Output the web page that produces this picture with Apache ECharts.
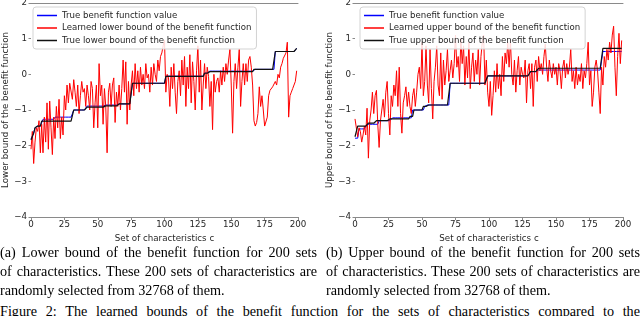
<!DOCTYPE html>
<html><head><meta charset="utf-8">
<script src="https://cdn.jsdelivr.net/npm/echarts@6/dist/echarts.min.js"></script>
<style>
html,body{margin:0;padding:0;background:#fff;}
#wrap{position:relative;width:640px;height:316px;overflow:hidden;background:#fff;}
#chart{position:absolute;left:0;top:0;width:640px;height:244px;}
.cap{position:absolute;font-family:"Liberation Serif","Times New Roman",serif;font-size:14.2px;color:#000;line-height:19px;height:19px;overflow:visible;}
.j{text-align:justify;text-align-last:justify;white-space:normal;word-spacing:-1px;}
.n{white-space:nowrap;}
</style></head>
<body><div id="wrap"><div id="chart"></div>
<div class="cap j" style="left:0;top:243px;width:317px">(a) Lower bound of the benefit function for 200 sets</div>
<div class="cap j" style="left:0;top:262px;width:317px">of characteristics. These 200 sets of characteristics are</div>
<div class="cap n" style="left:0;top:281px;">randomly selected from 32768 of them.</div>
<div class="cap j" style="left:326px;top:243px;width:314px">(b) Upper bound of the benefit function for 200 sets</div>
<div class="cap j" style="left:326px;top:262px;width:314px">of characteristics. These 200 sets of characteristics are</div>
<div class="cap n" style="left:326px;top:281px;">randomly selected from 32768 of them.</div>
<div class="cap j" style="left:0;top:302px;width:640px">Figure 2: The learned bounds of the benefit function for the sets of characteristics compared to the</div>
</div>
<script>
// x: set index 0..199
const xTicks = [0, 25, 50, 75, 100, 125, 150, 175, 200];
const yTicks = [-4, -3, -2, -1, 0, 1, 2];

// Left panel: true benefit value (blue)
const leftTrueValue = [
-1.8,-1.75,-1.65,-1.5,
-1.45,-1.45,-1.45,-1.45,-1.45,
-1.26,-1.26,-1.26,-1.26,-1.26,-1.26,-1.26,-1.26,-1.26,
-1.2,-1.2,-1.2,-1.2,-1.2,-1.2,-1.2,-1.2,-1.2,-1.2,-1.2,-1.2,-1.2,-1.2,
-1.0,-1.0,-1.0,-1.0,-1.0,-1.0,-1.0,-1.0,-1.0,-1.0,
-0.89,-0.89,-0.89,-0.89,-0.89,-0.89,-0.89,-0.89,-0.89,-0.89,-0.89,-0.89,-0.89,
-0.86,-0.86,-0.86,-0.86,-0.86,-0.86,-0.86,-0.86,-0.86,-0.86,-0.86,
-0.83,-0.83,-0.83,-0.83,-0.83,-0.83,-0.83,-0.83,-0.83,-0.83,
-0.25,-0.25,-0.25,-0.25,-0.25,-0.25,-0.25,-0.25,-0.25,-0.25,-0.25,-0.25,-0.25,-0.25,-0.25,-0.25,-0.25,-0.25,-0.25,-0.25,-0.25,-0.25,-0.25,-0.25,-0.25,
-0.05,-0.05,-0.05,-0.05,-0.05,-0.05,-0.05,-0.05,-0.05,-0.05,-0.05,-0.05,-0.05,-0.05,-0.05,-0.05,-0.05,-0.05,-0.05,-0.05,-0.05,-0.05,-0.05,-0.05,-0.05,-0.05,-0.05,-0.05,-0.05,
0.04,0.04,0.04,0.04,
0.09,0.09,0.09,0.09,0.09,0.09,0.09,0.09,0.09,0.09,0.09,0.09,0.09,0.09,0.09,0.09,0.09,0.09,0.09,0.09,0.09,0.09,0.09,0.09,0.09,0.09,0.09,0.09,0.09,0.09,0.09,0.09,0.09,
0.14,0.14,0.14,0.14,0.14,0.14,0.14,0.14,0.14,0.14,0.14,0.14,0.14,0.14,0.14,0.14,
0.64,0.64,0.64,0.64,0.64,0.64,0.64,0.64,0.64,0.64,0.64,0.64,0.64,0.64,0.64,0.64,
0.73];

// Left panel: learned lower bound (red)
const leftLearned = [
-2.1,-1.6,-2.5,-1.9,-1.5,-1.6,-1.3,-2.2,-1.4,-2.2,
-1.2,-1.9,-0.8,-2.1,-0.75,-1.5,-2.25,-1.2,-1.8,-0.9,
-1.5,-0.7,-1.8,-1.2,-1.7,-0.6,-1.0,-0.3,-0.8,-0.25,
-0.2,-0.7,-0.15,-0.5,-0.9,-0.3,-1.1,-0.6,-0.2,-0.5,
-0.4,-0.9,-0.3,-0.6,-1.0,-0.2,-0.4,-1.5,-0.8,-0.3,
-1.5,0.3,-0.6,-0.3,-1.4,-0.4,-0.9,-2.2,-0.5,-0.25,
-0.9,-0.3,-0.1,-1.35,-0.5,-0.9,-0.3,-1.0,-0.4,0.4,
-0.5,0.35,-1.4,-0.2,-1.0,-0.3,0.1,-0.6,0.3,-0.4,
0.1,-0.5,0.2,-0.3,0.0,-0.4,0.3,-0.1,0.0,-0.5,
0.2,-0.3,0.3,0.0,-0.2,0.4,0.1,0.5,0.6,0.8,
0.95,-0.5,0.0,-0.1,-0.9,0.2,-0.4,0.3,-0.5,-1.1,
-0.2,0.1,-0.6,0.4,-0.3,0.5,-0.9,0.2,-0.4,0.55,
-0.8,0.35,-0.2,-1.0,0.1,0.8,-0.5,0.4,-1.0,-0.3,
0.3,-0.4,0.2,-0.06,-0.9,-0.2,-1.55,0.0,-0.5,-0.2,
-0.1,-0.5,0.1,-0.3,0.2,-0.2,0.3,0.0,0.4,0.7,
-0.3,-1.65,-0.2,0.3,-0.4,0.2,0.7,-0.9,-0.2,0.3,
-0.3,0.3,-0.2,0.4,0.5,0.2,-0.3,-1.3,-1.45,-1.35,
-1.1,-0.35,-0.9,-0.6,-1.0,-1.45,-1.45,-1.2,-0.6,-0.45,
-0.5,-0.35,-0.4,-0.2,-0.3,0.0,-0.1,0.2,0.3,0.45,
0.5,0.6,0.9,-1.2,-0.6,-0.5,-0.4,-0.3,-0.2,0.1];

// Left panel: true lower bound (black)
const leftTrueBound = [
-1.84,-1.75,-1.65,-1.5,
-1.45,-1.45,-1.45,-1.45,
-1.31,-1.31,-1.31,-1.31,-1.31,-1.31,-1.31,-1.31,-1.31,-1.31,-1.31,-1.31,-1.31,-1.31,-1.31,-1.31,-1.31,-1.31,-1.31,-1.31,-1.31,-1.31,-1.31,-1.31,
-1.0,-1.0,-1.0,-1.0,-1.0,-1.0,-1.0,-1.0,-1.0,-1.0,
-0.92,-0.92,-0.92,-0.92,-0.92,-0.92,-0.92,-0.92,-0.92,-0.92,-0.92,-0.92,-0.92,
-0.885,-0.885,-0.885,-0.885,-0.885,-0.885,-0.885,-0.885,-0.885,-0.885,-0.885,
-0.83,-0.83,-0.83,-0.83,-0.83,-0.83,-0.83,-0.83,-0.83,-0.83,
-0.25,-0.25,-0.25,-0.25,-0.25,-0.25,-0.25,-0.25,-0.25,-0.25,-0.25,-0.25,-0.25,-0.25,-0.25,-0.25,-0.25,-0.25,-0.25,-0.25,-0.25,-0.25,-0.25,-0.25,-0.25,
-0.06,-0.06,-0.06,-0.06,-0.06,-0.06,-0.06,-0.06,-0.06,-0.06,-0.06,-0.06,-0.06,-0.06,-0.06,-0.06,-0.06,-0.06,-0.06,-0.06,-0.06,-0.06,-0.06,-0.06,-0.06,-0.06,-0.06,-0.06,-0.06,
0.03,0.03,0.03,0.03,
0.076,0.076,0.076,0.076,0.076,0.076,0.076,0.076,0.076,0.076,0.076,0.076,0.076,0.076,0.076,0.076,0.076,0.076,0.076,0.076,0.076,0.076,0.076,0.076,0.076,0.076,0.076,0.076,0.076,0.076,0.076,0.076,0.076,
0.14,0.14,0.14,0.14,0.14,0.14,0.14,0.14,0.14,0.14,0.14,0.14,0.14,0.14,0.14,0.14,
0.64,0.64,0.64,0.64,0.64,0.64,0.64,0.64,0.64,0.64,0.64,0.64,0.64,0.64,0.64,0.64,
0.73];

// Right panel: true benefit value (blue)
const rightTrueValue = [
-1.79,-1.79,-1.79,
-1.53,-1.53,-1.53,-1.53,-1.53,-1.53,
-1.4,-1.4,-1.4,-1.4,-1.4,-1.4,-1.4,-1.4,-1.4,
-1.3,-1.3,-1.3,-1.3,-1.3,-1.3,-1.3,-1.3,-1.3,-1.3,
-1.22,-1.22,-1.22,-1.22,-1.22,-1.22,-1.22,-1.22,-1.22,-1.22,-1.22,-1.22,-1.22,-1.22,-1.22,
-1.0,-1.0,-1.0,-1.0,-1.0,-1.0,-1.0,-1.0,-1.0,
-0.9,-0.9,
-0.86,-0.86,-0.86,-0.86,-0.86,-0.86,-0.86,-0.86,-0.86,-0.86,-0.86,-0.86,-0.86,-0.86,-0.86,-0.86,-0.86,
-0.25,-0.25,-0.25,-0.25,-0.25,-0.25,-0.25,-0.25,-0.25,-0.25,-0.25,-0.25,-0.25,-0.25,-0.25,-0.25,-0.25,-0.25,-0.25,-0.25,-0.25,-0.25,-0.25,-0.25,-0.25,-0.25,-0.25,-0.25,
-0.045,-0.045,-0.045,-0.045,-0.045,-0.045,-0.045,-0.045,-0.045,-0.045,-0.045,-0.045,-0.045,-0.045,-0.045,-0.045,-0.045,-0.045,-0.045,-0.045,-0.045,-0.045,-0.045,-0.045,-0.045,-0.045,-0.045,-0.045,-0.045,-0.045,-0.045,-0.045,
0.07,0.07,0.07,0.07,0.07,0.07,
0.12,0.12,0.12,0.12,0.12,0.12,0.12,0.12,0.12,0.12,0.12,0.12,0.12,0.12,0.12,0.12,0.12,0.12,0.12,0.12,0.12,0.12,0.12,0.12,
0.12,0.12,0.12,0.12,0.12,0.12,0.12,0.12,0.12,0.12,0.12,0.12,0.12,0.12,0.12,0.12,0.12,0.12,0.12,0.12,0.12,0.12,0.12,0.12,
0.64,0.64,0.64,0.64,0.64,0.64,0.64,0.64,0.64,0.64,0.64,0.64,0.64,0.64,0.64];

// Right panel: learned upper bound (red)
const rightLearned = [
-1.25,-1.3,-1.75,-1.5,-1.6,-1.9,-1.7,-1.45,-1.7,-0.95,
-2.35,-1.3,-1.0,-0.5,-1.1,-0.6,-0.45,-1.4,-2.05,-1.3,
-1.0,-0.7,-1.2,-0.5,-0.2,-1.1,-1.7,-0.6,-0.9,-0.3,
-0.6,0.1,-0.9,0.2,-1.1,-1.65,-0.8,-0.6,-0.35,-0.9,
-0.5,-0.9,-1.1,-0.6,-0.4,-0.9,-0.5,0.0,0.2,-0.4,
0.9,-0.6,-0.2,0.8,-0.3,-0.8,0.7,-0.4,-1.25,-0.2,
0.2,0.8,-0.3,-0.6,0.6,-0.7,0.4,-0.3,0.1,0.7,
-0.2,0.1,0.4,-0.1,0.3,1.1,0.2,0.5,-0.2,1.0,
0.3,0.8,-0.3,0.5,-0.1,0.9,-0.4,0.2,0.6,-0.2,
0.4,0.0,0.7,-0.3,0.5,0.9,1.1,-0.3,0.4,-0.5,
-0.9,-0.2,-1.15,-0.6,0.1,-0.5,0.3,-0.4,0.0,-0.6,
0.5,-0.2,0.6,0.3,0.9,0.2,0.95,0.0,-0.3,0.4,
-0.5,0.1,0.5,-0.3,0.2,0.0,-0.1,0.4,-0.8,0.1,
0.3,-0.4,0.3,-0.9,0.2,0.4,-0.2,0.5,0.1,0.3,
0.0,0.5,0.85,0.2,-0.2,0.4,0.1,-0.1,0.3,0.0,
0.2,-0.3,0.3,0.1,-0.4,0.2,0.4,-0.1,0.3,0.0,
0.2,0.7,-0.2,0.1,-0.4,0.2,-0.3,0.0,-0.2,0.3,
-0.4,0.1,-0.1,0.3,0.9,-0.3,0.1,-0.9,-0.5,0.2,
0.4,0.1,-0.5,-1.1,0.2,-0.3,0.5,0.2,0.7,0.4,
0.9,0.6,1.1,1.35,0.2,-0.6,0.5,1.15,0.3,0.95];

// Right panel: true upper bound (black)
const rightTrueBound = [
-1.75,-1.75,
-1.45,-1.45,-1.45,-1.45,-1.45,-1.45,-1.45,-1.45,
-1.37,-1.37,-1.37,-1.37,-1.37,-1.37,
-1.3,-1.3,-1.3,-1.3,-1.3,-1.3,-1.3,-1.3,-1.3,-1.3,
-1.25,-1.25,-1.25,-1.25,-1.25,-1.25,-1.25,-1.25,-1.25,-1.25,-1.25,-1.25,-1.25,-1.25,-1.25,
-1.18,-1.18,-1.18,
-1.0,-1.0,-1.0,-1.0,-1.0,-1.0,-1.0,
-0.9,-0.9,-0.9,
-0.86,-0.86,-0.86,-0.86,-0.86,-0.86,-0.86,-0.86,-0.86,-0.86,-0.86,-0.86,-0.86,-0.86,-0.86,-0.86,-0.86,
-0.25,-0.25,-0.25,-0.25,-0.25,-0.25,-0.25,-0.25,-0.25,-0.25,-0.25,-0.25,-0.25,-0.25,-0.25,-0.25,-0.25,-0.25,-0.25,-0.25,-0.25,-0.25,-0.25,-0.25,-0.25,-0.25,-0.25,-0.25,
-0.045,-0.045,-0.045,-0.045,-0.045,-0.045,-0.045,-0.045,-0.045,-0.045,-0.045,-0.045,-0.045,-0.045,-0.045,-0.045,-0.045,-0.045,-0.045,-0.045,-0.045,-0.045,-0.045,-0.045,-0.045,-0.045,-0.045,-0.045,-0.045,-0.045,-0.045,-0.045,
0.08,0.08,0.08,0.08,0.08,0.08,
0.17,0.17,0.17,0.17,0.17,0.17,0.17,0.17,0.17,0.17,0.17,0.17,0.17,0.17,0.17,0.17,0.17,0.17,0.17,0.17,0.17,0.17,0.17,0.17,
0.17,0.17,0.17,0.17,0.17,0.17,0.17,0.17,0.17,0.17,0.17,0.17,0.17,0.17,0.17,0.17,0.17,0.17,0.17,0.17,0.17,0.17,0.17,0.17,
0.73,0.73,0.73,0.73,0.73,0.73,0.73,0.73,0.73,0.73,0.73,0.73,0.73,0.73,0.73];

const leftNames = ['True benefit function value', 'Learned lower bound of the benefit function', 'True lower bound of the benefit function'];
const rightNames = ['True benefit function value ', 'Learned upper bound of the benefit function', 'True upper bound of the benefit function'];

const pairs = arr => arr.map((v, i) => [i, v]);
const FONT = 'DejaVu Sans';
const TXT = '#262626';
const SPINE = '#8a8a8a';
const minus = v => String(v).replace('-', '\u2212');

function xAxes(gi) {
  return [{
    gridIndex: gi, type: 'value', min: xTicks[0], max: xTicks[xTicks.length - 1], interval: 25,
    axisLine: { show: true, onZero: false, lineStyle: { color: SPINE, width: 1 } },
    axisTick: { show: true, length: 3, lineStyle: { color: SPINE } },
    axisLabel: { fontFamily: FONT, fontSize: 8.7, color: TXT, margin: 3 },
    splitLine: { show: false },
    name: 'Set of characteristics c', nameLocation: 'middle', nameGap: 14,
    nameTextStyle: { fontFamily: FONT, fontSize: 8.7, color: TXT }
  }, {
    gridIndex: gi, type: 'value', position: 'top', min: 0, max: 200,
    axisLine: { show: true, onZero: false, lineStyle: { color: SPINE, width: 1 } },
    axisTick: { show: false }, axisLabel: { show: false }, splitLine: { show: false }
  }];
}
function yAxis(gi, name) {
  return {
    gridIndex: gi, type: 'value', min: yTicks[0], max: yTicks[yTicks.length - 1], interval: 1,
    axisLine: { show: false },
    axisTick: { show: true, length: 2.5, lineStyle: { color: SPINE } },
    axisLabel: { fontFamily: FONT, fontSize: 8.7, color: TXT, margin: 4, formatter: minus },
    splitLine: { show: false },
    name: name, nameLocation: 'middle', nameGap: 19,
    nameTextStyle: { fontFamily: FONT, fontSize: 8.7, color: TXT }
  };
}
function line(name, data, color, xi, yi, width, z) {
  return {
    type: 'line', name: name, data: pairs(data), xAxisIndex: xi, yAxisIndex: yi,
    symbol: 'none', showSymbol: false, color: color,
    lineStyle: { color: color, width: width }, itemStyle: { color: color },
    z: z, animation: false, silent: true
  };
}
function legend(left, names) {
  return {
    left: left, top: 7, orient: 'vertical', data: names, icon: 'rect',
    itemWidth: 20, itemHeight: 1.5, itemGap: 1.5, padding: [3, 5, 3, 4],
    backgroundColor: 'rgba(255,255,255,0.85)', borderColor: '#d3d3d3', borderWidth: 1, borderRadius: 3,
    textStyle: { fontFamily: FONT, fontSize: 8.6, color: TXT, lineHeight: 11 },
    selectedMode: false
  };
}

const chart = echarts.init(document.getElementById('chart'), null, { renderer: 'canvas' });
chart.setOption({
  animation: false,
  backgroundColor: '#fff',
  grid: [
    { left: 31, right: 342, top: 3, bottom: 27, containLabel: false, outerBoundsMode: 'none' },
    { left: 355, right: 17, top: 3, bottom: 27, containLabel: false, outerBoundsMode: 'none' }
  ],
  xAxis: [...xAxes(0), ...xAxes(1)],
  yAxis: [yAxis(0, 'Lower bound of the benefit function'), yAxis(1, 'Upper bound of the benefit function')],
  legend: [legend(33, leftNames), legend(360, rightNames)],
  series: [
    line(leftNames[0], leftTrueValue, '#0000ff', 0, 0, 1, 2),
    line(leftNames[1], leftLearned, '#ff0000', 0, 0, 1, 3),
    line(leftNames[2], leftTrueBound, '#111111', 0, 0, 1.2, 4),
    line(rightNames[0], rightTrueValue, '#0000ff', 2, 1, 1, 2),
    line(rightNames[1], rightLearned, '#ff0000', 2, 1, 1, 3),
    line(rightNames[2], rightTrueBound, '#111111', 2, 1, 1.2, 4)
  ]
});
</script>
</body></html>
